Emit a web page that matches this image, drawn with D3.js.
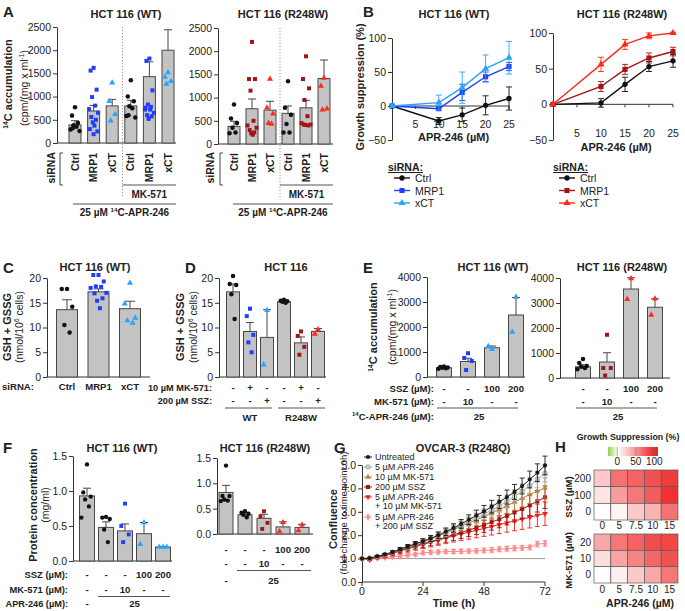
<!DOCTYPE html>
<html><head><meta charset="utf-8">
<script src="https://cdn.jsdelivr.net/npm/d3@7"></script>
<style>body{margin:0;background:#fff;}svg{display:block;}</style>
</head><body>
<svg id="c" width="685" height="611"></svg>
<script>
// ================= DATA =================
// Panel A
const aCategories = ["Ctrl","MRP1","xCT","Ctrl","MRP1","xCT"];
const aTicks = [0,500,1000,1500,2000,2500];
const aWTMean = [390, 690, 800, 800, 1430, 2000];
const aWTErr = [90, 120, 140, 120, 320, 440];
const aWTPoints = [
  [770, 590, 430, 380, 350, 290, 260, 320],
  [1620, 1560, 1150, 990, 805, 730, 650, 560, 500, 445, 375, 300, 250, 190],
  [1300, 900, 620, 480],
  [1350, 1000, 900, 790, 750, 580, 550, 600],
  [1820, 1770, 1135, 830, 780, 720, 650, 600, 575, 520, 720, 760],
  [1520, 1420, 1330, 1270]
];
const aMutMean = [380, 760, 730, 660, 780, 1410];
const aMutErr = [110, 210, 190, 160, 160, 400];
const aMutPoints = [
  [850, 550, 450, 350, 250, 230],
  [2200, 1400, 1400, 1150, 500, 400, 350, 300, 250, 230, 200],
  [1400, 780, 650, 450, 430],
  [1350, 780, 630, 430, 250, 250],
  [1890, 1400, 1200, 950, 600, 450, 420, 420, 400, 410],
  [1420, 1250, 760, 740]
];
// Panel B
const bDoses = [0, 10, 15, 20, 25];
const bXTicks = [5, 10, 15, 20, 25];
const bYTicks = [-50, 0, 50, 100];
const bLegend = ["Ctrl", "MRP1", "xCT"];
const bWTCtrl = [0, -22, -13, 1, 11];     const bWTCtrlErr = [0, 5, 10, 14, 17];
const bWTMRP1 = [0, -4, 20, 43, 58];      const bWTMRP1Err = [0, 2, 12, 7, 6];
const bWTxCT  = [0, 5, 27, 55, 71];       const bWTxCTErr  = [0, 11, 23, 20, 24];
const bMutCtrl = [0, 2, 28, 53, 61];      const bMutCtrlErr = [0, 6, 10, 7, 9];
const bMutMRP1 = [0, 25, 49, 65, 74];     const bMutMRP1Err = [0, 7, 7, 7, 6];
const bMutxCT  = [0, 56, 84, 96, 100];    const bMutxCTErr  = [0, 10, 7, 4, 1];
// Panel C
const cCategories = ["Ctrl", "MRP1", "xCT"];
const cTicks = [0, 5, 10, 15, 20];
const cMean = [13.6, 17.2, 13.8];
const cErr = [2.0, 0.6, 1.5];
const cPoints = [
  [17.8, 17.8, 14.2, 10.5, 9.0],
  [20.6, 20.6, 19.3, 18.3, 18.2, 18.0, 17.0, 16.9, 15.9, 15.4, 13.9],
  [19.0, 14.8, 11.9, 11.4, 10.9]
];
// Panel D
const dMK = ["-", "+", "-", "-", "+", "-"];
const dSSZ = ["-", "-", "+", "-", "-", "+"];
const dGroups = ["WT", "R248W"];
const dMean = [17.2, 9.2, 8.0, 15.2, 6.9, 9.2];
const dErr = [1.6, 1.8, 5.6, 0.2, 1.2, 0.6];
const dPoints = [
  [20.4, 18.8, 18.6, 16.7, 11.7],
  [13.8, 12.3, 8.5, 7.0, 5.0],
  [13.5, 2.5],
  [15.6, 15.4, 15.3, 15.2, 15.0],
  [9.2, 8.3, 6.1, 4.5],
  [9.6, 8.7]
];
// Panel E
const eSSZ = ["-", "-", "100", "200"];
const eMK = ["-", "10", "-", "-"];
const eTicks = [0, 1000, 2000, 3000, 4000];
const eWTMean = [370, 620, 1170, 2480];
const eWTErr = [30, 130, 70, 700];
const eWTPoints = [[420, 400, 380, 370, 350, 330], [950, 760, 640, 280], [1110, 1230], [3200, 1800]];
const eMutMean = [450, 640, 3560, 2830];
const eMutErr = [80, 370, 450, 340];
const eMutPoints = [[760, 600, 480, 450, 400, 350], [1730, 400, 400, 100], [3980, 3150], [3170, 2520]];
// Panel F
const fSSZ = ["-", "-", "-", "100", "200"];
const fMK = ["-", "-", "10", "-", "-"];
const fTicks = [0, 0.5, 1.0, 1.5];
const fWTMean = [0.93, 0.48, 0.43, 0.39, 0.20];
const fWTErr = [0.11, 0.08, 0.10, 0.16, 0.005];
const fWTPoints = [[1.38, 0.98, 0.92, 0.88, 0.78, 0.62], [0.63, 0.62, 0.60, 0.45, 0.27], [0.82, 0.50, 0.38, 0.27], [0.55, 0.24], [0.20, 0.20, 0.20]];
const fMutMean = [0.82, 0.38, 0.31, 0.14, 0.13];
const fMutErr = [0.14, 0.04, 0.08, 0.10, 0.06];
const fMutPoints = [[1.35, 0.75, 0.75, 0.68, 0.66, 0.65], [0.45, 0.42, 0.40, 0.38, 0.33], [0.45, 0.35, 0.22, 0.10], [0.23, 0.05], [0.18, 0.07]];
// Panel G
const gTimes = [0,3,6,9,12,15,18,21,24,27,30,33,36,39,42,45,48,51,54,57,60,63,66,69,72];
const gXTicks = [0, 24, 48, 72];
const gYTicks = [0, 1, 2, 3, 4, 5];
const gLabels = ["Untreated", "5 µM APR-246", "10 µM MK-571", "200 µM SSZ", "5 µM APR-246|+ 10 µM MK-571", "5 µM APR-246|+ 200 µM SSZ"];
const gUntreated = [1.00,1.02,1.10,1.18,1.28,1.40,1.52,1.63,1.74,1.86,2.00,2.15,2.31,2.48,2.66,2.84,3.02,3.22,3.42,3.63,3.85,4.10,4.38,4.67,4.98];
const gAPR = [1.00,1.02,1.09,1.17,1.27,1.39,1.50,1.61,1.72,1.84,1.97,2.11,2.26,2.42,2.58,2.74,2.90,3.07,3.25,3.44,3.65,3.88,4.12,4.38,4.65];
const gMK = [1.00,1.01,1.09,1.17,1.27,1.38,1.50,1.61,1.72,1.84,1.97,2.10,2.24,2.38,2.52,2.66,2.80,2.95,3.10,3.26,3.42,3.58,3.74,3.88,4.02];
const gSSZ = [1.00,0.98,1.07,1.15,1.25,1.35,1.45,1.55,1.64,1.73,1.82,1.92,2.02,2.12,2.22,2.33,2.44,2.56,2.68,2.82,2.97,3.12,3.28,3.45,3.62];
const gAPRMK = [1.00,0.95,1.05,1.12,1.22,1.32,1.42,1.52,1.61,1.70,1.79,1.88,1.97,2.05,2.13,2.21,2.29,2.37,2.45,2.53,2.61,2.69,2.77,2.85,2.92];
const gAPRSSZ = [1.00,1.00,1.02,1.05,1.08,1.10,1.15,1.18,1.25,1.27,1.28,1.30,1.30,1.31,1.32,1.33,1.35,1.37,1.40,1.42,1.44,1.46,1.48,1.62,1.65];
const gUntreatedErr = [0,0.02,0.03,0.04,0.05,0.07,0.08,0.10,0.11,0.13,0.14,0.16,0.18,0.19,0.21,0.23,0.25,0.27,0.28,0.30,0.32,0.34,0.36,0.38,0.40];
const gAPRErr = [0,0.02,0.03,0.04,0.05,0.06,0.08,0.09,0.10,0.12,0.13,0.15,0.16,0.18,0.20,0.21,0.23,0.25,0.26,0.28,0.30,0.31,0.33,0.35,0.37];
const gMKErr = [0,0.02,0.03,0.04,0.06,0.07,0.09,0.10,0.12,0.14,0.15,0.17,0.19,0.21,0.23,0.25,0.27,0.29,0.31,0.33,0.35,0.37,0.39,0.41,0.43];
const gSSZErr = [0,0.03,0.04,0.06,0.08,0.10,0.12,0.14,0.16,0.18,0.20,0.22,0.24,0.26,0.28,0.30,0.32,0.34,0.36,0.38,0.40,0.42,0.44,0.46,0.48];
const gAPRMKErr = [0,0.04,0.06,0.08,0.10,0.12,0.14,0.16,0.18,0.20,0.22,0.24,0.26,0.28,0.30,0.32,0.34,0.36,0.38,0.40,0.42,0.44,0.46,0.48,0.50];
const gAPRSSZErr = [0,0.03,0.04,0.05,0.06,0.06,0.07,0.07,0.08,0.08,0.08,0.08,0.09,0.09,0.09,0.09,0.10,0.10,0.10,0.10,0.10,0.10,0.10,0.12,0.12];
// Panel H
const hAPR = ["0", "5", "7.5", "10", "15"];
const hSSZRows = ["200", "100", "0"];
const hSSZValues = [[25, 65, 72, 80, 90], [12, 45, 62, 75, 95], [0, 5, 25, 35, 65]];
const hMKRows = ["20", "10", "0"];
const hMKValues = [[40, 62, 72, 82, 85], [15, 42, 56, 70, 80], [0, 8, 25, 40, 62]];
const hLegendTicks = [0, 50, 100];

// ================= HELPERS =================
const FONT = "'Liberation Sans', Arial, Helvetica, sans-serif";
const COL = {black:"#111111", blue:"#1f3cff", lblue:"#27a4ff", dred:"#a31515", red:"#ff2a1a",
             gray:"#b5b5b5", gold:"#b8852c", pink:"#ff8a8a", ink:"#222222", axis:"#333333"};
const RL = 9.6; // row-label font size
const svg = d3.select("#c").style("font-family", FONT);
const JIT = [0, -3, 3, -1.5, 1.5, -4.5, 4.5, -2.3, 2.3, -0.8, 0.8, -3.8, 3.8, 0];
const SYM = {circle: d3.symbolCircle, square: d3.symbolSquare, triangle: d3.symbolTriangle, diamond: d3.symbolDiamond, tridown: d3.symbolTriangle};

function txt(x, y, s, o = {}) {
  const t = svg.append("text").attr("x", x).attr("y", y)
    .attr("font-size", o.size || 10.5).attr("font-weight", o.bold ? "bold" : "normal")
    .attr("text-anchor", o.anchor || "middle").attr("fill", o.fill || COL.ink);
  if (o.rotate) t.attr("transform", `rotate(-90,${x},${y})`);
  if (o.dy) t.attr("dy", o.dy);
  if (o.deco) t.attr("text-decoration", o.deco);
  if (Array.isArray(s)) {
    const fs = o.size || 10.5;
    let sup = false;
    s.forEach(p => {
      if (typeof p === "string") {
        const ts = t.append("tspan").text(p);
        if (sup) { ts.attr("dy", fs * 0.38); sup = false; }
      } else {
        t.append("tspan").attr("font-size", fs * 0.62).attr("dy", -fs * 0.38).text(p.sup);
        sup = true;
      }
    });
  } else t.text(s);
  return t;
}
function line(x1, y1, x2, y2, c = COL.axis, w = 1, dash) {
  const l = svg.append("line").attr("x1", x1).attr("y1", y1).attr("x2", x2).attr("y2", y2)
    .attr("stroke", c).attr("stroke-width", w);
  if (dash) l.attr("stroke-dasharray", dash);
  return l;
}
function yAxis(x, y, ticks, fmt, fs = 10.5) {
  const a = svg.append("g").attr("transform", `translate(${x},0)`)
    .call(d3.axisLeft(y).tickValues(ticks).tickFormat(fmt).tickSize(4).tickSizeOuter(0).tickPadding(2));
  a.select(".domain").attr("stroke", COL.axis);
  a.selectAll(".tick line").attr("stroke", COL.axis);
  a.selectAll(".tick text").attr("font-size", fs).attr("font-family", FONT).attr("fill", COL.ink);
  return a;
}
function marker(shape, size, x, y, fill, stroke) {
  const p = svg.append("path").attr("d", d3.symbol().type(SYM[shape]).size(size)())
    .attr("transform", `translate(${x},${y})` + (shape === "tridown" ? " rotate(180)" : ""))
    .attr("fill", fill);
  if (stroke) p.attr("stroke", stroke).attr("stroke-width", 0.8);
  return p;
}
function bars(o) {
  const idx = d3.range(o.means.length);
  svg.append("g").selectAll("rect").data(idx).join("rect")
    .attr("x", i => o.x(i) - o.bw / 2).attr("width", o.bw)
    .attr("y", i => o.y(o.means[i])).attr("height", i => o.y(0) - o.y(o.means[i]))
    .attr("fill", "#c3c3c3").attr("stroke", "#474747").attr("stroke-width", 1);
  idx.forEach(i => {
    const x = o.x(i), y1 = o.y(o.means[i]), y2 = o.y(o.means[i] + o.errs[i]);
    line(x, y1, x, y2, "#474747");
    line(x - o.cap, y2, x + o.cap, y2, "#474747");
  });
  idx.forEach(i => {
    o.points[i].forEach((v, j) => {
      const dx = JIT[j % JIT.length] * o.bw / 12;
      marker(o.shapes[i], o.ms || 16, o.x(i) + dx, o.y(v), o.colors[i]);
    });
  });
}
function series(o) {
  o.xs.forEach((d, i) => {
    if (!o.errs[i]) return;
    const x = o.x(d), y1 = o.y(o.vals[i] - o.errs[i]), y2 = o.y(o.vals[i] + o.errs[i]);
    line(x, y1, x, y2, o.ecolor || o.color, 0.9);
    line(x - o.cap, y1, x + o.cap, y1, o.ecolor || o.color, 0.9);
    line(x - o.cap, y2, x + o.cap, y2, o.ecolor || o.color, 0.9);
  });
  svg.append("path").datum(o.xs.map((d, i) => [d, o.vals[i]]))
    .attr("d", d3.line().x(p => o.x(p[0])).y(p => o.y(p[1])))
    .attr("fill", "none").attr("stroke", o.color).attr("stroke-width", o.lw || 1.4);
  o.xs.forEach((d, i) => marker(o.shape, o.size, o.x(d), o.y(o.vals[i]), o.fill || o.color, o.stroke));
}

// ================= PANEL A =================
function panelA(o) {
  const x = d3.scalePoint().domain(d3.range(aCategories.length)).range(o.xr);
  const y = d3.scaleLinear().domain([0, 2500]).range(o.yr);
  yAxis(o.ax, y, aTicks, d3.format("d"));
  line(o.ax, y(0), o.xEnd, y(0));
  bars({x, y, means: o.means, errs: o.errs, points: o.points,
        shapes: ["circle", "square", "triangle", "circle", "square", "triangle"], colors: o.colors, bw: 12, cap: 4, ms: 16});
  const sx = (x(2) + x(3)) / 2 + 1;
  line(sx, o.yr[1], sx, 198, "#9a9a9a", 1, "1.2,1.8");
  aCategories.forEach((c, i) => txt(x(i), 153, c, {bold: true, rotate: true, anchor: "end", dy: "0.35em"}));
  txt(o.sirnaX, 152, "siRNA", {bold: true, rotate: true, anchor: "end", dy: "0.35em"});
  svg.append("path").attr("d", `M${o.brX + 3},153H${o.brX}V185H${o.brX + 3}`).attr("fill", "none").attr("stroke", "#444");
  line(sx, 185, o.xEnd, 185, "#555");
  txt((sx + o.xEnd) / 2, 198, "MK-571", {bold: true, size: 10});
  line(o.lineStart, 204, o.xEnd, 204, "#555");
  txt((o.lineStart + o.xEnd) / 2, 216, ["25 µM ", {sup: "14"}, "C-APR-246"], {bold: true, size: 10});
  txt(o.titleX, 18, o.title, {bold: true, size: 11});
}
panelA({xr: [75, 168], yr: [143, 27], ax: 57, xEnd: 176, means: aWTMean, errs: aWTErr, points: aWTPoints,
        colors: [COL.black, COL.blue, COL.lblue, COL.black, COL.blue, COL.lblue], sirnaX: 51, brX: 60, lineStart: 73,
        titleX: 126, title: "HCT 116 (WT)"});
panelA({xr: [234, 324], yr: [144, 28], ax: 218, xEnd: 333, means: aMutMean, errs: aMutErr, points: aMutPoints,
        colors: [COL.black, COL.dred, COL.red, COL.black, COL.dred, COL.red], sirnaX: 210, brX: 220, lineStart: 233,
        titleX: 283, title: "HCT 116 (R248W)"});
txt(3, 17, "A", {bold: true, size: 15, anchor: "start"});
txt(12, 84, [{sup: "14"}, "C accumulation"], {bold: true, rotate: true, size: 11, dy: "0.35em"});
txt(24, 88, ["(cpm/(mg x ml", {sup: "-1"}, ")"], {rotate: true, size: 10.5, dy: "0.35em"});

// ================= PANEL B =================
function panelB(o) {
  const x = d3.scaleLinear().domain([0, 25]).range(o.xr);
  const y = d3.scaleLinear().domain([-50, 100]).range(o.yr);
  yAxis(o.xr[0], y, bYTicks, d3.format("d"));
  line(o.xr[0], y(0), o.xr[1], y(0));
  bXTicks.forEach(t => {
    line(x(t), y(0), x(t), y(0) + 3);
    txt(x(t), o.tickY, String(t), {});
  });
  txt((o.xr[0] + o.xr[1]) / 2 + 3, o.labY, "APR-246 (µM)", {bold: true, size: 11});
  o.series.forEach(s => series({x, y, xs: bDoses, vals: s.v, errs: s.e, color: s.c, shape: s.s, size: s.z, cap: 3}));
  txt(o.titleX, 18, o.title, {bold: true, size: 11});
  txt(o.legX, 171, "siRNA:", {bold: true, anchor: "start", size: 10.5, deco: "underline"});
  o.series.forEach((s, i) => {
    const yy = 178 + i * 12.5;
    line(o.legX + 6, yy, o.legX + 22, yy, s.c, 1.4);
    marker(s.s, s.z, o.legX + 14, yy, s.c);
    txt(o.legX + 27, yy + 4, bLegend[i], {anchor: "start"});
  });
}
panelB({xr: [392, 509], yr: [140, 38], tickY: 128, labY: 141, titleX: 454, title: "HCT 116 (WT)", legX: 388,
        series: [{v: bWTCtrl, e: bWTCtrlErr, c: COL.black, s: "circle", z: 22},
                 {v: bWTMRP1, e: bWTMRP1Err, c: COL.blue, s: "square", z: 26},
                 {v: bWTxCT, e: bWTxCTErr, c: COL.lblue, s: "triangle", z: 22}]});
panelB({xr: [553, 673], yr: [140, 33], tickY: 137, labY: 151, titleX: 622, title: "HCT 116 (R248W)", legX: 553,
        series: [{v: bMutCtrl, e: bMutCtrlErr, c: COL.black, s: "circle", z: 22},
                 {v: bMutMRP1, e: bMutMRP1Err, c: COL.dred, s: "square", z: 26},
                 {v: bMutxCT, e: bMutxCTErr, c: COL.red, s: "triangle", z: 22}]});
txt(363, 17, "B", {bold: true, size: 15, anchor: "start"});
txt(360, 87, "Growth suppression (%)", {bold: true, rotate: true, size: 11, dy: "0.35em"});

// ================= PANEL C =================
{
  const x = d3.scalePoint().domain(d3.range(cCategories.length)).range([67, 130]);
  const y = d3.scaleLinear().domain([0, 20]).range([377, 278]);
  yAxis(47, y, cTicks, d3.format("d"));
  line(47, y(0), 150, y(0));
  bars({x, y, means: cMean, errs: cErr, points: cPoints, shapes: ["circle", "square", "triangle"],
        colors: [COL.black, COL.blue, COL.lblue], bw: 21, cap: 5, ms: 16});
  txt(2, 390, "siRNA:", {bold: true, anchor: "start", size: RL});
  cCategories.forEach((c, i) => txt(x(i), 390, c, {bold: true, size: RL}));
  txt(95, 271, "HCT 116 (WT)", {bold: true, size: 11});
  txt(3, 273, "C", {bold: true, size: 15, anchor: "start"});
  txt(7, 327, "GSH + GSSG", {bold: true, rotate: true, size: 11, dy: "0.35em"});
  txt(19, 327, ["(nmol/10", {sup: "6"}, " cells)"], {rotate: true, size: 10.5, dy: "0.35em"});
}

// ================= PANEL D =================
{
  const x = d3.scalePoint().domain(d3.range(dMean.length)).range([233, 318]);
  const y = d3.scaleLinear().domain([0, 20]).range([377, 278]);
  yAxis(219, y, cTicks, d3.format("d"));
  line(219, y(0), 326, y(0));
  bars({x, y, means: dMean, errs: dErr, points: dPoints,
        shapes: ["circle", "square", "triangle", "circle", "square", "triangle"],
        colors: [COL.black, COL.blue, COL.lblue, COL.black, COL.dred, COL.red], bw: 13, cap: 4, ms: 16});
  txt(212, 391, "10 µM MK-571:", {bold: true, anchor: "end", size: 9.2});
  txt(212, 404, "200 µM SSZ:", {bold: true, anchor: "end", size: 9.2});
  dMK.forEach((s, i) => txt(x(i), 391, s, {bold: true, size: RL}));
  dSSZ.forEach((s, i) => txt(x(i), 404, s, {bold: true, size: RL}));
  line(x(0) - 8, 408, x(2) + 5, 408, "#555");
  line(x(3) - 6, 408, x(5) + 7, 408, "#555");
  txt(x(1), 421, dGroups[0], {bold: true, size: RL});
  txt(x(4), 421, dGroups[1], {bold: true, size: RL});
  txt(286, 271, "HCT 116", {bold: true, size: 11});
  txt(185, 273, "D", {bold: true, size: 15, anchor: "start"});
  txt(180, 327, "GSH + GSSG", {bold: true, rotate: true, size: 11, dy: "0.35em"});
  txt(193, 327, ["(nmol/10", {sup: "6"}, " cells)"], {rotate: true, size: 10.5, dy: "0.35em"});
}

// ================= PANEL E =================
function panelE(o) {
  const x = d3.scalePoint().domain(d3.range(o.means.length)).range(o.xr);
  const y = d3.scaleLinear().domain([0, 4000]).range(o.yr);
  yAxis(o.ax, y, eTicks, d3.format("d"));
  line(o.ax, y(0), o.xEnd, y(0));
  bars({x, y, means: o.means, errs: o.errs, points: o.points, shapes: ["circle", "square", "triangle", "triangle"],
        colors: o.colors, bw: 15, cap: 4, ms: 16});
  eSSZ.forEach((s, i) => txt(x(i), 392, s, {bold: true, size: RL}));
  eMK.forEach((s, i) => txt(x(i), 405, s, {bold: true, size: RL}));
  line(x(0) - 7, 408, x(3) + 2, 408, "#555");
  txt((x(0) + x(3)) / 2 - 1, 420, "25", {bold: true, size: RL});
  txt(o.titleX, 271, o.title, {bold: true, size: 11});
}
panelE({xr: [444, 516], yr: [377, 277], ax: 427, xEnd: 525, means: eWTMean, errs: eWTErr, points: eWTPoints,
        colors: [COL.black, COL.blue, COL.lblue, COL.lblue], titleX: 493, title: "HCT 116 (WT)"});
panelE({xr: [583, 655], yr: [378, 278], ax: 560, xEnd: 670, means: eMutMean, errs: eMutErr, points: eMutPoints,
        colors: [COL.black, COL.dred, COL.red, COL.red], titleX: 622, title: "HCT 116 (R248W)"});
txt(434, 392, "SSZ (µM):", {bold: true, anchor: "end", size: RL});
txt(434, 405, "MK-571 (µM):", {bold: true, anchor: "end", size: RL});
txt(434, 420, [{sup: "14"}, "C-APR-246 (µM):"], {bold: true, anchor: "end", size: RL});
txt(363, 273, "E", {bold: true, size: 15, anchor: "start"});
txt(377, 327, [{sup: "14"}, "C accumulation"], {bold: true, rotate: true, size: 11, dy: "0.35em"});
txt(392, 327, ["(cpm/(mg x ml", {sup: "-1"}, ")"], {rotate: true, size: 10.5, dy: "0.35em"});

// ================= PANEL F =================
function panelF(o) {
  const x = d3.scalePoint().domain(d3.range(o.means.length)).range(o.xr);
  const y = d3.scaleLinear().domain([0, 1.5]).range(o.yr);
  yAxis(o.ax, y, fTicks, d3.format(".1f"));
  line(o.ax, y(0), o.xEnd, y(0));
  bars({x, y, means: o.means, errs: o.errs, points: o.points,
        shapes: ["circle", "circle", "square", "triangle", "triangle"], colors: o.colors, bw: o.bw, cap: 4, ms: 15});
  fSSZ.forEach((s, i) => txt(x(i), o.rows[0], s, {bold: true, size: RL}));
  fMK.forEach((s, i) => txt(x(i), o.rows[1], s, {bold: true, size: RL}));
  line(x(1) - 8, o.rows[1] + 3.5, o.xEnd - 2, o.rows[1] + 3.5, "#555");
  txt(x(0), o.rows[2], "-", {bold: true, size: RL});
  txt((x(1) + x(4)) / 2, o.rows[2], "25", {bold: true, size: RL});
  txt(o.titleX, 452, o.title, {bold: true, size: 11});
}
panelF({xr: [87, 163], yr: [561, 456], ax: 73, xEnd: 172, bw: 15, means: fWTMean, errs: fWTErr, points: fWTPoints,
        colors: [COL.black, COL.black, COL.blue, COL.lblue, COL.lblue], rows: [578, 593, 607], titleX: 122, title: "HCT 116 (WT)"});
panelF({xr: [226, 302], yr: [534, 458], ax: 217, xEnd: 313, bw: 14, means: fMutMean, errs: fMutErr, points: fMutPoints,
        colors: [COL.black, COL.black, COL.dred, COL.red, COL.red], rows: [553, 567, 584], titleX: 265, title: "HCT 116 (R248W)"});
txt(68, 578, "SSZ (µM):", {bold: true, anchor: "end", size: 9.4});
txt(68, 593, "MK-571 (µM):", {bold: true, anchor: "end", size: 9.4});
txt(68, 607, "APR-246 (µM):", {bold: true, anchor: "end", size: 9.2});
txt(3, 453, "F", {bold: true, size: 15, anchor: "start"});
txt(33, 505, "Protein concentration", {bold: true, rotate: true, size: 11, dy: "0.35em"});
txt(45, 505, "(mg/ml)", {rotate: true, size: 10.5, dy: "0.35em"});

// ================= PANEL G =================
{
  const x = d3.scaleLinear().domain([0, 72]).range([362, 545]);
  const y = d3.scaleLinear().domain([0, 5]).range([582, 465]);
  const ya = svg.append("g").attr("transform", "translate(362,0)")
    .call(d3.axisLeft(y).tickValues(gYTicks).tickSize(4).tickSizeOuter(0).tickPadding(2));
  ya.select(".domain").attr("stroke", COL.axis);
  ya.selectAll(".tick line").attr("stroke", COL.axis);
  ya.selectAll(".tick text").attr("font-size", 10.5).attr("font-family", FONT).attr("fill", COL.ink);
  line(362, 582, 545, 582);
  gXTicks.forEach(t => { line(x(t), 582, x(t), 586); txt(x(t), 595, String(t), {}); });
  line(362, y(1), 545, y(1), "#9a9a9a", 1);
  const S = [
    {v: gUntreated, e: gUntreatedErr, c: "#1a1a1a", s: "circle", z: 14},
    {v: gAPR, e: gAPRErr, c: "#a8a8a8", s: "circle", z: 16, fill: "#d0d0d0", stroke: "#9a9a9a"},
    {v: gMK, e: gMKErr, c: COL.gold, s: "triangle", z: 14},
    {v: gSSZ, e: gSSZErr, c: COL.dred, s: "square", z: 16},
    {v: gAPRMK, e: gAPRMKErr, c: "#f21d1d", s: "tridown", z: 14},
    {v: gAPRSSZ, e: gAPRSSZErr, c: COL.pink, s: "diamond", z: 16}
  ];
  S.slice().reverse().forEach(s => series({x, y, xs: gTimes, vals: s.v, errs: s.e, color: s.c, shape: s.s,
      size: s.z, cap: 2.5, fill: s.fill, stroke: s.stroke, lw: 1}));
  const legY = [457, 467, 477, 487, 497, 517];
  S.forEach((s, i) => {
    const yy = legY[i];
    line(364, yy, 372, yy, s.c, 1);
    marker(s.s, s.z, 368, yy, s.fill || s.c, s.stroke);
    const parts = gLabels[i].split("|");
    txt(375, yy + 3.3, parts[0], {anchor: "start", size: 9});
    if (parts[1]) txt(375, yy + 12, parts[1], {anchor: "start", size: 9});
  });
  txt(454, 607, "Time (h)", {bold: true, size: 11});
  txt(463, 452, "OVCAR-3 (R248Q)", {bold: true, size: 11});
  txt(334, 453, "G", {bold: true, size: 15, anchor: "start"});
  txt(333, 519, "Confluence", {bold: true, rotate: true, size: 11, dy: "0.35em"});
  txt(344, 513, "(fold change to time point 0h)", {rotate: true, size: 9.5, dy: "0.35em"});
}

// ================= PANEL H =================
{
  const color = d3.scaleLinear().domain([-25, 0, 100]).range(["#8fd24c", "#ffffff", "#ee2626"]).clamp(true);
  const cb = d3.scaleLinear().domain([-25, 110]).range([608, 658]);
  const grad = svg.append("defs").append("linearGradient").attr("id", "hgrad");
  [-25, -12, 0, 25, 50, 75, 100, 110].forEach(v => grad.append("stop")
    .attr("offset", ((cb(v) - 608) / 50 * 100) + "%").attr("stop-color", color(v)));
  svg.append("rect").attr("x", 608).attr("y", 447).attr("width", 50).attr("height", 9).attr("fill", "url(#hgrad)");
  hLegendTicks.forEach(t => {
    line(cb(t), 447, cb(t), 456, "#777", 0.6);
    txt(cb(t), 465, String(t), {size: 10});
  });
  txt(628, 440, "Growth Suppression (%)", {bold: true, size: 8.8});
  txt(555, 452, "H", {bold: true, size: 15, anchor: "start"});
  function heat(rows, vals, y0, y1, labY, title) {
    const x = d3.scaleBand().domain(hAPR).range([594, 678]);
    const y = d3.scaleBand().domain(rows).range([y0, y1]);
    rows.forEach((r, ri) => hAPR.forEach((c, ci) => {
      svg.append("rect").attr("x", x(c)).attr("y", y(r)).attr("width", x.bandwidth()).attr("height", y.bandwidth())
        .attr("fill", color(vals[ri][ci])).attr("stroke", "#5a5a5a").attr("stroke-width", 0.7);
    }));
    rows.forEach(r => txt(591, y(r) + y.bandwidth() / 2 + 3.5, r, {anchor: "end", size: 10}));
    hAPR.forEach(c => txt(x(c) + x.bandwidth() / 2, labY, c, {size: 10}));
    txt(569, (y0 + y1) / 2 + 2, title, {bold: true, rotate: true, size: 9.6, dy: "0.35em"});
  }
  heat(hSSZRows, hSSZValues, 470, 520, 529, "SSZ (µM)");
  heat(hMKRows, hMKValues, 534, 583, 593, "MK-571 (µM)");
  txt(640, 607, "APR-246 (µM)", {bold: true, size: 10.5});
}
</script>
</body></html>
